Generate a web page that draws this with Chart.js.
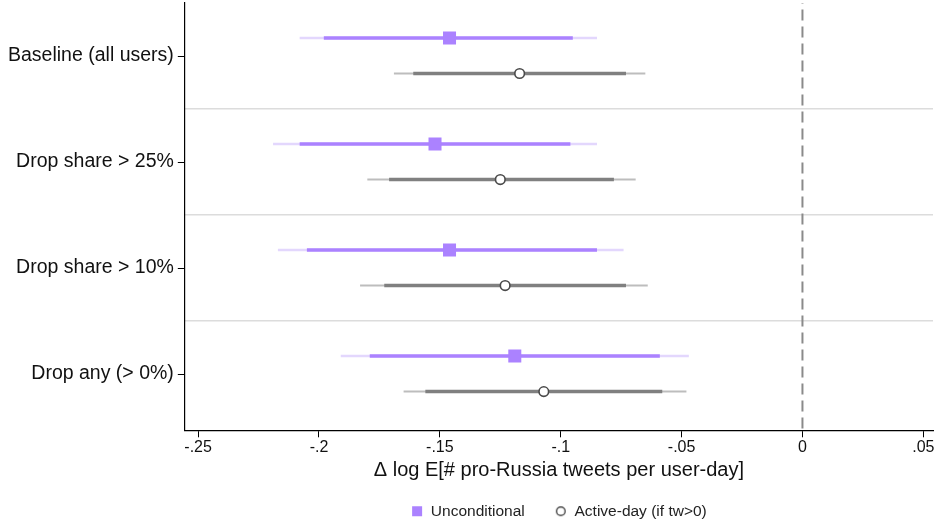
<!DOCTYPE html>
<html>
<head>
<meta charset="utf-8">
<script src="https://cdn.jsdelivr.net/npm/chart.js@4.4.1/dist/chart.umd.min.js"></script>
<style>
  html, body { margin: 0; padding: 0; background: #fff; }
  #wrap { width: 934px; height: 521px; }
</style>
</head>
<body>
<div id="wrap"><canvas id="myChart" width="934" height="521"></canvas></div>
<script>
// categories (top to bottom)
const categories = ['Baseline (all users)', 'Drop share > 25%', 'Drop share > 10%', 'Drop any (> 0%)'];

// Unconditional: estimate, inner (thick) and outer (thin) intervals
const uncEst  = [-0.146, -0.152, -0.146, -0.119];
const uncLoIn = [-0.198, -0.208, -0.205, -0.179];
const uncHiIn = [-0.095, -0.096, -0.085, -0.059];
const uncLoOut = [-0.208, -0.219, -0.217, -0.191];
const uncHiOut = [-0.085, -0.085, -0.074, -0.047];

// Active-day (if tw>0)
const actEst  = [-0.117, -0.125, -0.123, -0.107];
const actLoIn = [-0.161, -0.171, -0.173, -0.156];
const actHiIn = [-0.073, -0.078, -0.073, -0.058];
const actLoOut = [-0.169, -0.180, -0.183, -0.165];
const actHiOut = [-0.065, -0.069, -0.064, -0.048];

const xTicks = [-0.25, -0.2, -0.15, -0.1, -0.05, 0, 0.05];
const sepTicks = [0.5, 1.5, 2.5];

const purple = '#ab82ff';
const purpleLight = '#e3d7fd';
const grayDark = '#808080';
const grayLight = '#bdbdbd';
const circleCol = '#4a4a4a';
const uncOff = -0.17;
const actOff = 0.165;

function fmtTick(v) {
    if (Math.abs(v) < 1e-9) return '0';
    let s = String(Math.round(v * 100) / 100);
    return s.replace('0.', '.');
}

// small icons for the legend
function legendIcon(kind) {
    const c = document.createElement('canvas');
    c.width = 12; c.height = 12;
    const g = c.getContext('2d');
    if (kind === 'rect') {
        g.fillStyle = purple;
        g.fillRect(1, 1, 10, 10);
    } else {
        g.strokeStyle = circleCol;
        g.lineWidth = 1.4;
        g.beginPath();
        g.arc(6, 6, 4.3, 0, Math.PI * 2);
        g.stroke();
    }
    return c;
}
const iconRect = legendIcon('rect');
const iconCircle = legendIcon('circle');

let datasets = [];

function addCI(lo, hi, off, color, width, order) {
    for (let i = 0; i < categories.length; i++) {
        datasets.push({
            type: 'line',
            data: [{ x: lo[i], y: i + off }, { x: hi[i], y: i + off }],
            borderColor: color,
            borderWidth: width,
            pointRadius: 0,
            borderCapStyle: 'butt',
            order: order,
            isCI: true
        });
    }
}

addCI(uncLoOut, uncHiOut, uncOff, purpleLight, 2.5, 3);
addCI(actLoOut, actHiOut, actOff, grayLight, 2, 3);
addCI(uncLoIn, uncHiIn, uncOff, purple, 3.5, 2);
addCI(actLoIn, actHiIn, actOff, grayDark, 3.5, 2);

// zero reference line
datasets.push({
    type: 'line',
    data: [{ x: 0, y: -0.6 }, { x: 0, y: 3.6 }],
    borderColor: '#8a8a8a',
    borderWidth: 2,
    borderDash: [11, 6],
    pointRadius: 0,
    order: 4,
    isCI: true
});

datasets.push({
    type: 'scatter',
    label: 'Unconditional',
    data: uncEst.map((v, i) => ({ x: v, y: i + uncOff })),
    pointStyle: 'rect',
    pointRadius: 9.2,
    backgroundColor: purple,
    borderColor: purple,
    borderWidth: 0,
    order: 0,
    icon: iconRect
});
datasets.push({
    type: 'scatter',
    label: 'Active-day (if tw>0)',
    data: actEst.map((v, i) => ({ x: v, y: i + actOff })),
    pointStyle: 'circle',
    pointRadius: 4.8,
    backgroundColor: '#ffffff',
    borderColor: circleCol,
    borderWidth: 1.6,
    order: 0,
    icon: iconCircle
});

const font = "'Liberation Sans', Arial, Helvetica, sans-serif";

function noPad(axis) {
    axis.paddingTop = 0;
    axis.paddingBottom = 0;
    axis.paddingLeft = 0;
    axis.paddingRight = 0;
}

const config = {
    type: 'scatter',
    data: { datasets: datasets },
    options: {
        responsive: false,
        animation: false,
        layout: { autoPadding: false, padding: { left: 4, right: 1, top: 3, bottom: -8 } },
        plugins: {
            tooltip: { enabled: false },
            legend: {
                position: 'bottom',
                fullSize: false,
                labels: {
                    usePointStyle: true,
                    boxWidth: 12,
                    boxHeight: 12,
                    padding: 30,
                    color: '#222',
                    font: { family: font, size: 15.5 },
                    generateLabels: (chart) => {
                        const items = Chart.defaults.plugins.legend.labels.generateLabels(chart);
                        return items.filter(it => !chart.data.datasets[it.datasetIndex].isCI)
                            .map(it => {
                                it.pointStyle = chart.data.datasets[it.datasetIndex].icon;
                                return it;
                            });
                    }
                }
            }
        },
        scales: {
            x: {
                type: 'linear',
                min: -0.2555,
                max: 0.054,
                afterBuildTicks: (axis) => { axis.ticks = xTicks.map(v => ({ value: v })); },
                afterFit: noPad,
                ticks: {
                    callback: (v) => fmtTick(v),
                    color: '#111',
                    font: { family: font, size: 16 },
                    padding: 1,
                    maxRotation: 0
                },
                grid: {
                    drawOnChartArea: false,
                    drawTicks: true,
                    tickLength: 7,
                    tickColor: '#000',
                    tickWidth: 1
                },
                border: { display: true, color: '#000', width: 1.2 },
                title: {
                    display: true,
                    text: 'Δ log E[# pro-Russia tweets per user-day]',
                    color: '#111',
                    font: { family: font, size: 20 },
                    padding: { top: 0, bottom: -9 }
                }
            },
            y: {
                type: 'linear',
                reverse: true,
                min: -0.5,
                max: 3.53,
                afterBuildTicks: (axis) => { axis.ticks = categories.map((c, i) => ({ value: i })); },
                afterFit: noPad,
                ticks: {
                    callback: (v) => categories[v],
                    color: '#111',
                    font: { family: font, size: 19.5 },
                    padding: 4
                },
                grid: {
                    drawOnChartArea: false,
                    drawTicks: true,
                    tickLength: 7,
                    tickColor: '#000',
                    tickWidth: 1
                },
                border: { display: true, color: '#000', width: 1.2 }
            },
            y2: {
                type: 'linear',
                position: 'right',
                reverse: true,
                min: -0.5,
                max: 3.53,
                afterBuildTicks: (axis) => { axis.ticks = sepTicks.map(v => ({ value: v })); },
                afterFit: (axis) => { noPad(axis); axis.width = 0; },
                ticks: { display: false },
                grid: {
                    drawOnChartArea: true,
                    drawTicks: false,
                    color: '#dcdcdc',
                    lineWidth: 1.5
                },
                border: { display: false }
            }
        }
    }
};

const myChart = new Chart(document.getElementById('myChart'), config);
</script>
</body>
</html>
